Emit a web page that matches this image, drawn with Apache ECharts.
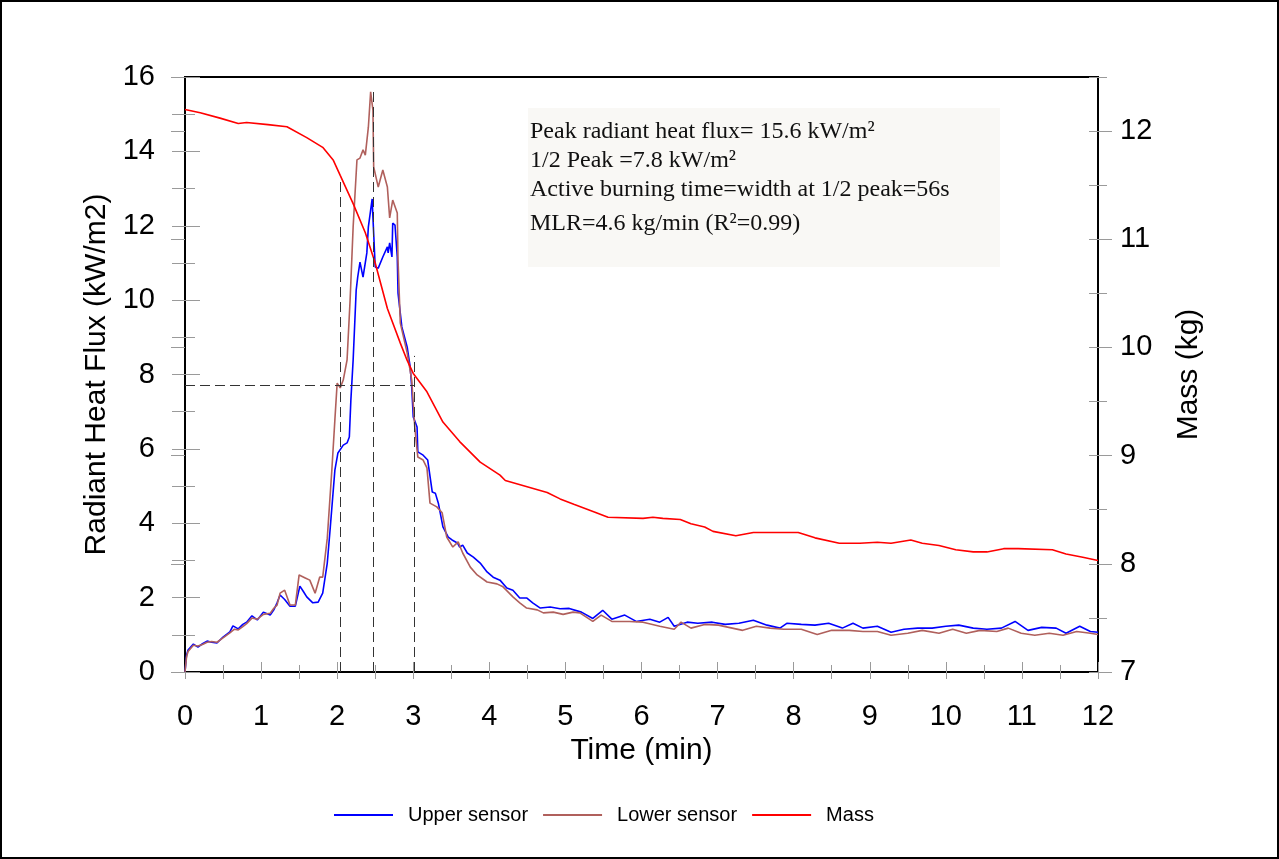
<!DOCTYPE html>
<html><head><meta charset="utf-8">
<script src="https://cdn.jsdelivr.net/npm/echarts@6/dist/echarts.min.js"></script>
<style>
html,body{margin:0;padding:0;background:#fff}
#wrap{position:relative;width:1279px;height:859px}
#c{width:1279px;height:859px}
#frame{position:absolute;left:0;top:0;width:1279px;height:859px;box-sizing:border-box;border:2px solid #000;pointer-events:none}
</style></head><body>
<div id="wrap"><div id="c"></div><div id="frame"></div></div>
<script>
// ---- data ----
const upperTime = [0.00,0.02,0.04,0.11,0.17,0.23,0.29,0.35,0.42,0.50,0.59,0.63,0.70,0.76,0.81,0.88,0.95,1.03,1.12,1.17,1.21,1.25,1.31,1.38,1.45,1.51,1.56,1.60,1.68,1.75,1.81,1.87,1.91,1.97,2.01,2.08,2.13,2.16,2.18,2.21,2.25,2.27,2.30,2.34,2.39,2.41,2.44,2.46,2.47,2.50,2.54,2.60,2.66,2.67,2.69,2.72,2.73,2.76,2.79,2.80,2.85,2.92,2.96,2.98,3.00,3.05,3.06,3.13,3.19,3.25,3.29,3.33,3.35,3.39,3.46,3.51,3.58,3.61,3.65,3.71,3.79,3.88,3.97,4.05,4.14,4.23,4.31,4.40,4.49,4.57,4.67,4.80,4.93,5.05,5.21,5.36,5.49,5.61,5.78,5.93,6.11,6.24,6.35,6.43,6.60,6.74,6.93,7.10,7.28,7.47,7.65,7.82,7.91,8.10,8.28,8.46,8.64,8.78,8.91,9.10,9.28,9.45,9.63,9.82,10.00,10.17,10.36,10.54,10.73,10.91,11.08,11.26,11.45,11.58,11.76,11.90,12.00];
const upperFlux = [0,0.45,0.59,0.75,0.67,0.76,0.83,0.80,0.78,0.94,1.08,1.24,1.16,1.28,1.34,1.51,1.40,1.61,1.53,1.68,1.86,2.07,1.95,1.77,1.77,2.31,2.15,2.02,1.86,1.88,2.12,2.93,3.90,5.43,5.89,6.10,6.16,6.32,7.31,8.39,10.27,10.62,11.02,10.62,11.27,11.97,12.42,12.72,12.23,10.89,10.86,11.16,11.43,11.27,11.54,11.16,12.07,12.02,11.16,10.19,9.28,8.74,8.20,7.66,6.86,6.59,5.92,5.83,5.70,4.84,4.81,4.54,4.54,3.90,3.63,3.55,3.47,3.36,3.41,3.20,3.09,2.93,2.69,2.55,2.47,2.26,2.20,1.99,1.99,1.86,1.72,1.75,1.70,1.71,1.61,1.44,1.66,1.42,1.53,1.36,1.42,1.34,1.47,1.23,1.34,1.31,1.34,1.28,1.31,1.39,1.26,1.18,1.31,1.28,1.26,1.31,1.18,1.31,1.18,1.23,1.07,1.15,1.18,1.18,1.23,1.26,1.18,1.15,1.18,1.36,1.12,1.20,1.18,1.04,1.23,1.09,1.07];

const lowerTime = [0.00,0.02,0.04,0.11,0.17,0.23,0.29,0.35,0.42,0.50,0.59,0.65,0.70,0.76,0.81,0.88,0.95,1.03,1.12,1.17,1.21,1.25,1.31,1.38,1.45,1.50,1.58,1.64,1.71,1.77,1.81,1.87,1.93,1.97,2.00,2.04,2.08,2.13,2.17,2.21,2.26,2.30,2.34,2.37,2.41,2.44,2.47,2.48,2.54,2.60,2.66,2.69,2.73,2.79,2.80,2.83,2.92,2.98,3.02,3.06,3.13,3.18,3.22,3.31,3.38,3.44,3.52,3.59,3.65,3.75,3.84,3.97,4.10,4.18,4.31,4.40,4.49,4.63,4.71,4.84,4.97,5.10,5.19,5.36,5.47,5.61,5.84,6.02,6.24,6.43,6.52,6.65,6.83,7.01,7.33,7.51,7.69,7.87,8.10,8.31,8.50,8.73,8.91,9.10,9.28,9.50,9.69,9.91,10.09,10.27,10.45,10.67,10.82,10.99,11.17,11.36,11.54,11.72,11.90,12.00];
const lowerFlux = [0,0.40,0.55,0.72,0.70,0.74,0.80,0.82,0.80,0.92,1.05,1.15,1.13,1.22,1.30,1.45,1.42,1.55,1.58,1.72,1.80,2.12,2.20,1.80,1.80,2.61,2.53,2.47,2.12,2.55,2.55,3.60,5.43,6.78,7.77,7.64,7.85,8.39,10.00,11.97,13.77,13.82,14.04,13.90,14.65,15.60,15.11,13.58,13.04,13.50,13.04,12.21,12.69,12.34,11.08,9.38,8.58,7.85,6.59,5.78,5.70,5.49,4.54,4.44,4.28,3.63,3.36,3.50,3.20,2.82,2.61,2.42,2.37,2.29,2.02,1.86,1.72,1.67,1.59,1.61,1.55,1.61,1.59,1.36,1.53,1.36,1.36,1.34,1.23,1.15,1.34,1.18,1.28,1.26,1.12,1.23,1.18,1.15,1.15,1.01,1.12,1.12,1.09,1.09,0.99,1.04,1.12,1.04,1.15,1.04,1.12,1.09,1.18,1.04,0.99,1.04,0.99,1.09,1.04,1.01];

const massTime = [0.00,0.20,0.46,0.70,0.81,1.09,1.34,1.60,1.81,1.95,2.04,2.21,2.37,2.50,2.66,2.83,2.92,3.00,3.18,3.39,3.61,3.88,4.14,4.21,4.76,4.93,5.11,5.38,5.56,6.02,6.15,6.28,6.51,6.65,6.83,6.94,7.24,7.47,7.73,8.06,8.28,8.60,8.87,9.10,9.28,9.54,9.69,9.91,10.13,10.36,10.54,10.76,10.95,11.40,11.58,11.80,12.00];
const massKg = [12.20,12.17,12.12,12.07,12.08,12.06,12.04,11.94,11.85,11.73,11.59,11.33,11.06,10.78,10.36,10.04,9.88,9.76,9.59,9.31,9.13,8.94,8.82,8.77,8.66,8.60,8.55,8.48,8.43,8.42,8.43,8.42,8.41,8.37,8.34,8.30,8.26,8.29,8.29,8.29,8.24,8.19,8.19,8.20,8.19,8.22,8.19,8.17,8.13,8.11,8.11,8.14,8.14,8.13,8.09,8.06,8.03];

// guide lines (dashed): vertical at half-peak crossings and peak; horizontal at 1/2 peak
const guideTimes = [2.04, 2.475, 3.01];
const guideTops = [13.3, 15.6, 8.5];
const halfPeak = 7.7;
const halfPeakEnd = 3.01;

const noteLines = [
  'Peak radiant heat flux= 15.6 kW/m\u00B2',
  '1/2 Peak =7.8 kW/m\u00B2',
  'Active burning time=width at 1/2 peak=56s',
  'MLR=4.6 kg/min (R\u00B2=0.99)'
];

// ---- chart ----
const FONT = "'Liberation Sans', Arial, sans-serif";
const SERIF = "'Liberation Serif', 'Times New Roman', serif";
const TG = '#9a9a9a';
const zip = (t, v) => t.map((x, i) => [x, v[i]]);

function tick(len, inside) { return {show: true, inside: inside, length: len, lineStyle: {color: TG, width: 1}}; }
function minor(len) { return {show: true, splitNumber: 2, length: len, lineStyle: {color: TG, width: 1}}; }

const chart = echarts.init(document.getElementById('c'), null, {renderer: 'canvas'});
const noteY = [132, 161, 190, 224];

chart.setOption({
  animation: false,
  backgroundColor: '#fff',
  grid: {left: 185, top: 77, width: 913, height: 595, show: true, borderColor: '#000', borderWidth: 2, backgroundColor: 'transparent'},
  legend: {
    data: ['Upper sensor', 'Lower sensor', 'Mass'],
    left: 329, top: 800, icon: 'rect', itemWidth: 59, itemHeight: 2, itemGap: 15, selectedMode: false,
    textStyle: {fontSize: 20, color: '#000', fontFamily: FONT, padding: [0, 0, 0, 10]}
  },
  xAxis: [
    {type: 'value', position: 'bottom', min: 0, max: 12, interval: 1,
      axisLine: {show: true, onZero: false, lineStyle: {color: '#000', width: 2}},
      axisTick: tick(7, false), minorTick: minor(7), splitLine: {show: false},
      axisLabel: {fontSize: 29, color: '#000', fontFamily: FONT, margin: 30},
      name: 'Time (min)', nameLocation: 'middle', nameGap: 62,
      nameTextStyle: {fontSize: 30, color: '#000', fontFamily: FONT}},
    {type: 'value', position: 'bottom', min: 0, max: 12, interval: 1,
      axisLine: {show: false}, axisTick: tick(10, true), minorTick: minor(7),
      splitLine: {show: false}, axisLabel: {show: false}}
  ],
  yAxis: [
    {type: 'value', position: 'left', min: 0, max: 16, interval: 2,
      axisLine: {show: true, onZero: false, lineStyle: {color: '#000', width: 2}},
      axisTick: tick(13, false), minorTick: minor(13), splitLine: {show: false},
      axisLabel: {fontSize: 29, color: '#000', fontFamily: FONT, margin: 30},
      name: 'Radiant Heat Flux (kW/m2)', nameLocation: 'middle', nameGap: 72, nameRotate: 90,
      nameTextStyle: {fontSize: 30, color: '#000', fontFamily: FONT}},
    {type: 'value', position: 'left', min: 0, max: 16, interval: 2,
      axisLine: {show: false}, axisTick: tick(15, true), minorTick: minor(10),
      splitLine: {show: false}, axisLabel: {show: false}},
    {type: 'value', position: 'right', min: 7, max: 12.5, interval: 1,
      axisLine: {show: true, onZero: false, lineStyle: {color: '#000', width: 2}},
      axisTick: tick(14, false), splitLine: {show: false},
      axisLabel: {fontSize: 29, color: '#000', fontFamily: FONT, margin: 22, showMaxLabel: false},
      name: 'Mass (kg)', nameLocation: 'middle', nameGap: 76, nameRotate: 90,
      nameTextStyle: {fontSize: 30, color: '#000', fontFamily: FONT}},
    {type: 'value', position: 'right', min: 7, max: 12.5, interval: 1,
      axisLine: {show: false}, axisTick: tick(14, true), splitLine: {show: false}, axisLabel: {show: false}},
    {type: 'value', position: 'right', min: 7, max: 12.5, interval: 0.5,
      axisLine: {show: false}, axisTick: tick(9, false), splitLine: {show: false}, axisLabel: {show: false}},
    {type: 'value', position: 'right', min: 7, max: 12.5, interval: 0.5,
      axisLine: {show: false}, axisTick: tick(9, true), splitLine: {show: false}, axisLabel: {show: false}}
  ],
  graphic: [
    {type: 'rect', x: 528, y: 108, shape: {width: 472, height: 159}, style: {fill: '#f9f8f5'}, z: 0, silent: true}
  ].concat(noteLines.map((s, i) => ({
    type: 'text', x: 530, y: noteY[i], z: 1, silent: true,
    style: {text: s, fontSize: 24, fontFamily: SERIF, fill: '#111', verticalAlign: 'middle', align: 'left'}
  }))),
  series: [
    {name: 'Upper sensor', type: 'line', xAxisIndex: 0, yAxisIndex: 0, data: zip(upperTime, upperFlux),
      symbol: 'none', showSymbol: false, lineStyle: {color: '#0000ff', width: 1.6}, itemStyle: {color: '#0000ff'}, z: 3},
    {name: 'Lower sensor', type: 'line', xAxisIndex: 0, yAxisIndex: 0, data: zip(lowerTime, lowerFlux),
      symbol: 'none', showSymbol: false, lineStyle: {color: '#b0605c', width: 1.6}, itemStyle: {color: '#b0605c'}, z: 3,
      markLine: {silent: true, symbol: ['none', 'none'], label: {show: false},
        lineStyle: {color: '#333', width: 1, type: [10, 5]}, emphasis: {disabled: true},
        data: guideTimes.map((t, i) => [{coord: [t, 0]}, {coord: [t, guideTops[i]]}])
          .concat([[{coord: [0, halfPeak]}, {coord: [halfPeakEnd, halfPeak]}]])}},
    {name: 'Mass', type: 'line', xAxisIndex: 0, yAxisIndex: 2, data: zip(massTime, massKg),
      symbol: 'none', showSymbol: false, lineStyle: {color: '#ff0000', width: 1.6}, itemStyle: {color: '#ff0000'}, z: 4}
  ]
});
</script>
</body></html>
